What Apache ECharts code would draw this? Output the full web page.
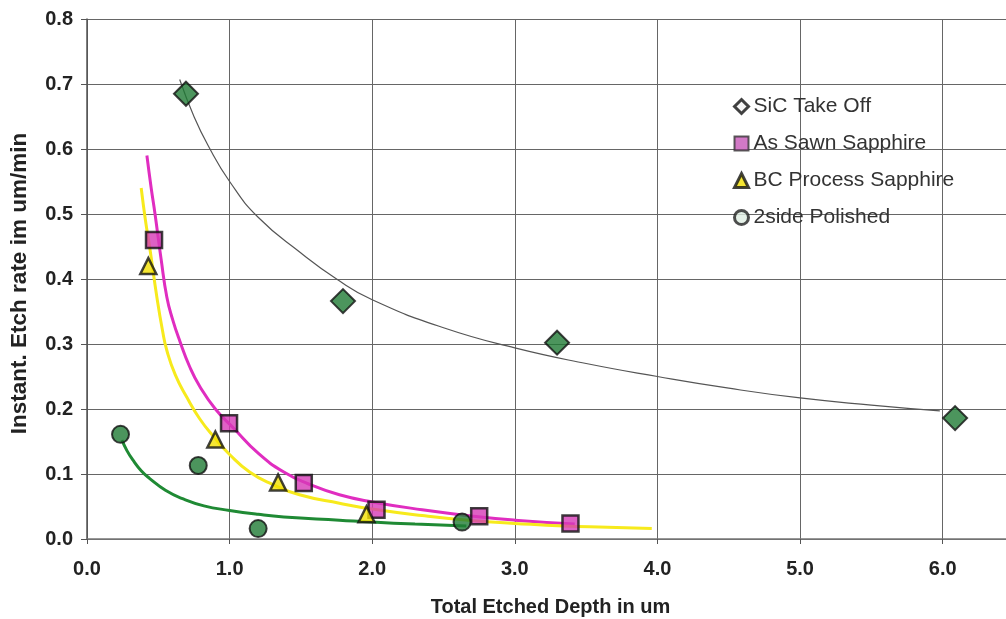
<!DOCTYPE html>
<html>
<head>
<meta charset="utf-8">
<script src="https://cdn.jsdelivr.net/npm/echarts@6/dist/echarts.min.js"></script>
<style>html,body{margin:0;padding:0;background:#fff;}#c{width:1006px;height:619px;}</style>
</head>
<body>
<div id="c"></div>
<script>
// Measured points [x, y]
const sicPoints = [[0.694, 0.685], [1.795, 0.366], [3.296, 0.302], [6.087, 0.186]];
const sawnPoints = [[0.47, 0.460], [0.996, 0.178], [1.52, 0.086], [2.03, 0.045], [2.75, 0.035], [3.39, 0.024]];
const bcPoints = [[0.43, 0.420], [0.90, 0.153], [1.34, 0.087], [1.96, 0.038]];
const polishedPoints = [[0.235, 0.161], [0.78, 0.113], [1.20, 0.016], [2.63, 0.026]];

// Trend lines
const sicTrend = [[0.65, 0.707], [0.75, 0.65], [0.85, 0.605], [1.0, 0.55], [1.2, 0.495], [1.5, 0.44], [1.75, 0.40], [2.0, 0.368], [2.5, 0.325], [3.0, 0.294], [3.5, 0.27], [4.0, 0.25], [4.5, 0.232], [5.0, 0.217], [5.5, 0.206], [5.98, 0.197]];
const sawnTrend = [[0.42, 0.59], [0.45, 0.54], [0.477, 0.50], [0.52, 0.43], [0.56, 0.372], [0.60, 0.338], [0.65, 0.305], [0.72, 0.265], [0.79, 0.235], [0.90, 0.200], [1.03, 0.170], [1.2, 0.132], [1.38, 0.103], [1.55, 0.085], [1.77, 0.068], [2.0, 0.057], [2.35, 0.045], [2.71, 0.035], [3.0, 0.029], [3.42, 0.023]];
const bcTrend = [[0.38, 0.54], [0.41, 0.49], [0.44, 0.448], [0.49, 0.372], [0.53, 0.32], [0.56, 0.290], [0.62, 0.252], [0.70, 0.218], [0.79, 0.185], [0.89, 0.157], [1.0, 0.130], [1.14, 0.103], [1.3, 0.084], [1.49, 0.068], [1.77, 0.055], [2.0, 0.046], [2.35, 0.036], [2.71, 0.028], [3.0, 0.024], [3.34, 0.020], [3.65, 0.018], [3.96, 0.016]];
const polishedTrend = [[0.245, 0.152], [0.28, 0.136], [0.32, 0.122], [0.38, 0.105], [0.44, 0.093], [0.55, 0.075], [0.67, 0.062], [0.82, 0.051], [1.0, 0.044], [1.2, 0.038], [1.38, 0.034], [1.77, 0.029], [2.0, 0.026], [2.3, 0.023], [2.66, 0.020]];

const legendNames = ['SiC Take Off', 'As Sawn Sapphire', 'BC Process Sapphire', '2side Polished'];
const xTicks = [0, 1, 2, 3, 4, 5, 6];

const FONT = '"Liberation Sans", Arial, sans-serif';
const chart = echarts.init(document.getElementById('c'), null, {renderer: 'canvas'});

function trend(data, color, width) {
  return {type: 'line', data: data, smooth: 0.5, showSymbol: false, symbol: 'none', silent: true,
    lineStyle: {color: color, width: width}, z: 2};
}

chart.setOption({
  animation: false,
  backgroundColor: '#ffffff',
  grid: {left: 87, top: 19, right: -8, bottom: 80, containLabel: false, outerBoundsMode: 'none'},
  xAxis: {
    type: 'value', min: 0, max: 6.5, interval: 1,
    name: 'Total Etched Depth in um', nameLocation: 'middle', nameGap: 58,
    nameTextStyle: {fontFamily: FONT, fontSize: 20, fontWeight: 'bold', color: '#222'},
    axisLine: {show: true, lineStyle: {color: '#777', width: 1.5}},
    axisTick: {show: true, length: 5, lineStyle: {color: '#555'}},
    axisLabel: {fontFamily: FONT, fontSize: 20, fontWeight: 'bold', color: '#222', margin: 20,
      showMaxLabel: false,
      formatter: v => xTicks.indexOf(v) >= 0 ? v.toFixed(1) : ''},
    splitLine: {show: true, lineStyle: {color: '#666', width: 1}}
  },
  yAxis: {
    type: 'value', min: 0, max: 0.8, interval: 0.1,
    name: 'Instant. Etch rate im um/min', nameLocation: 'middle', nameGap: 56,
    nameTextStyle: {fontFamily: FONT, fontSize: 22.5, fontWeight: 'bold', color: '#222', padding: [0, 9, 0, 0]},
    axisLine: {show: true, lineStyle: {color: '#555', width: 1.5}},
    axisTick: {show: true, length: 6, lineStyle: {color: '#555'}},
    axisLabel: {fontFamily: FONT, fontSize: 20, fontWeight: 'bold', color: '#222', margin: 14,
      formatter: v => v.toFixed(1)},
    splitLine: {show: true, lineStyle: {color: '#666', width: 1}}
  },
  legend: {
    orient: 'vertical', left: 728, top: 91, itemWidth: 14, itemHeight: 14, itemGap: 16,
    textStyle: {fontFamily: FONT, fontSize: 21, color: '#333'},
    data: [
      {name: legendNames[0], icon: 'diamond', itemStyle: {color: '#f4f4f4', borderColor: '#111', borderWidth: 3}},
      {name: legendNames[1], icon: 'rect', itemStyle: {color: '#c757b8', borderColor: '#333', borderWidth: 2}},
      {name: legendNames[2], icon: 'triangle', itemStyle: {color: '#f2e000', borderColor: '#111', borderWidth: 3}},
      {name: legendNames[3], icon: 'circle', itemStyle: {color: '#dfeee2', borderColor: '#222', borderWidth: 3}}
    ]
  },
  series: [
    trend(sicTrend, '#555555', 1.2),
    trend(sawnTrend, '#e02dc0', 3),
    trend(bcTrend, '#f7ea1c', 3),
    trend(polishedTrend, '#1f8a34', 3),
    {name: legendNames[0], type: 'scatter', data: sicPoints, symbol: 'diamond', symbolSize: [24, 24], z: 5,
      itemStyle: {color: '#1f7a35', borderColor: '#111', borderWidth: 2}},
    {name: legendNames[1], type: 'scatter', data: sawnPoints, symbol: 'rect', symbolSize: 16, z: 5,
      itemStyle: {color: '#d63ab6', borderColor: '#111', borderWidth: 2.5}},
    {name: legendNames[2], type: 'scatter', data: bcPoints, symbol: 'triangle', symbolSize: 16, z: 5,
      itemStyle: {color: '#f2e000', borderColor: '#111', borderWidth: 2.5}},
    {name: legendNames[3], type: 'scatter', data: polishedPoints, symbol: 'circle', symbolSize: 17, z: 5,
      itemStyle: {color: '#1f7a35', borderColor: '#111', borderWidth: 2}}
  ]
});
</script>
</body>
</html>
